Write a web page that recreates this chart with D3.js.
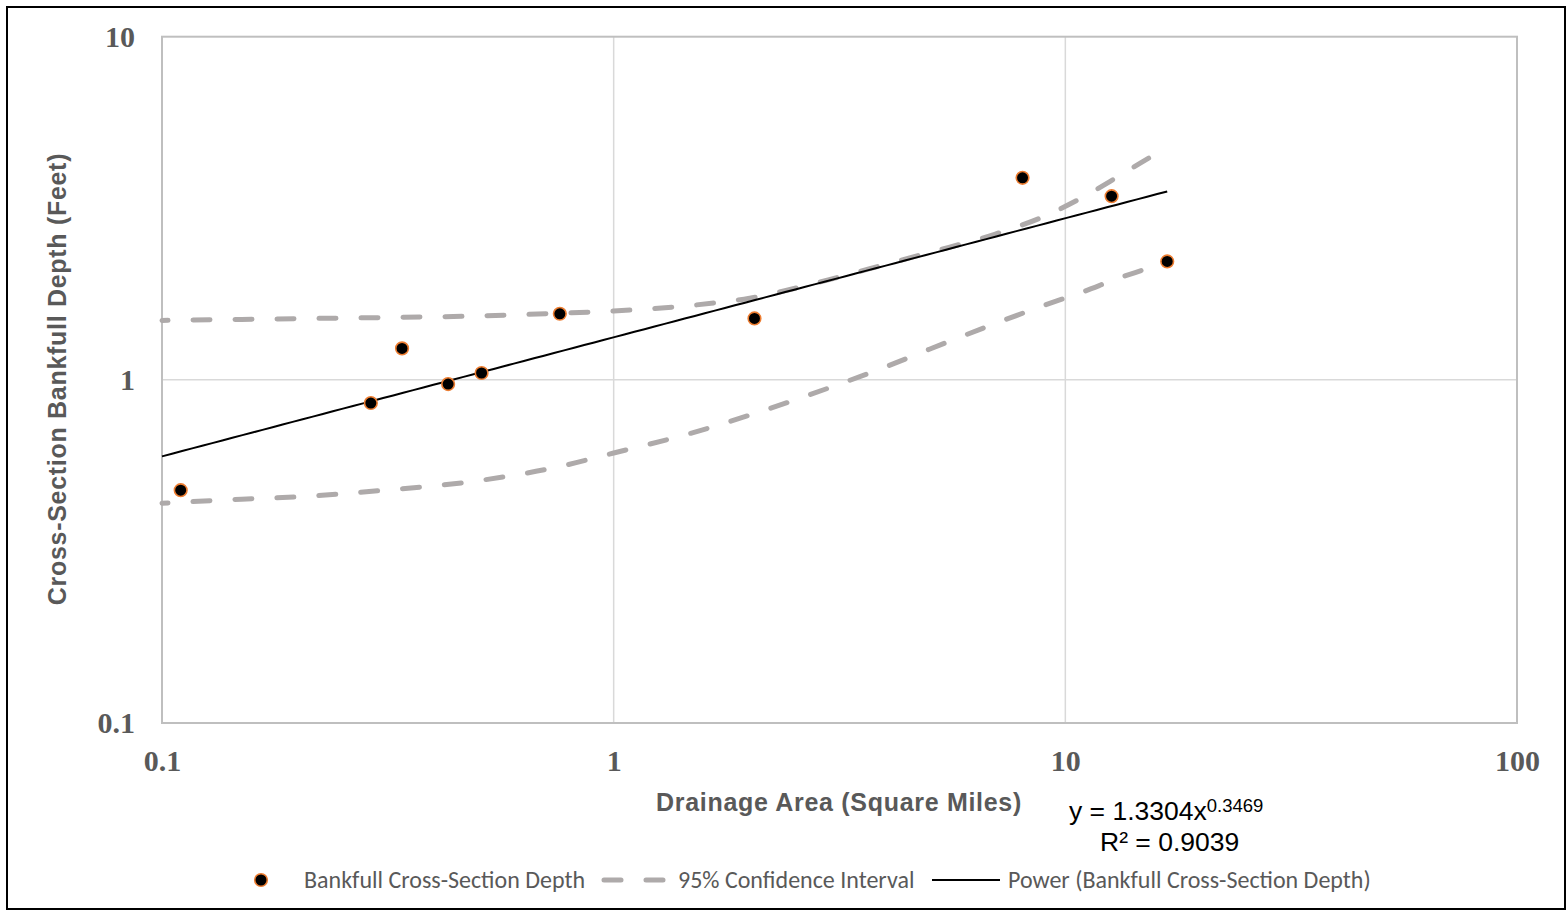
<!DOCTYPE html>
<html>
<head>
<meta charset="utf-8">
<script src="https://cdn.jsdelivr.net/npm/d3@7"></script>
<style>
  html, body { margin: 0; padding: 0; background: #fff; }
  svg { display: block; }
</style>
</head>
<body>
<svg id="chart" width="1568" height="911"></svg>
<script>
// Surveyed reaches: drainage area (sq mi) and bankfull cross-section depth (ft)
const drainageArea  = [0.11, 0.29, 0.34, 0.43, 0.51, 0.76, 2.05, 8.04, 12.66, 16.81];
const bankfullDepth = [0.477, 0.856, 1.235, 0.972, 1.047, 1.558, 1.51, 3.88, 3.43, 2.213];

// 95% confidence band around the regression
const ciArea  = [0.1, 0.15, 0.2, 0.3, 0.5, 0.75, 1, 1.5, 2, 3, 4, 5, 7, 9, 11, 13, 15, 16.81];
const ciUpper = [1.49, 1.50, 1.508, 1.518, 1.535, 1.563, 1.587, 1.65, 1.73, 1.96, 2.17, 2.35, 2.66, 3.0, 3.42, 3.89, 4.36, 4.75];
const ciLower = [0.437, 0.449, 0.456, 0.475, 0.508, 0.557, 0.612, 0.702, 0.789, 0.948, 1.091, 1.228, 1.46, 1.65, 1.81, 1.97, 2.10, 2.21];

// Power regression: y = a * x^b
const powerCoef = 1.3304;
const powerExp  = 0.3469;
const rSquared  = 0.9039;

const xTicks = [0.1, 1, 10, 100];
const yTicks = [0.1, 1, 10];

const svg = d3.select("#chart");
const plotLeft = 162, plotRight = 1517, plotTop = 36.7, plotBottom = 723;

const x = d3.scaleLog().domain([0.1, 100]).range([plotLeft, plotRight]);
const y = d3.scaleLog().domain([0.1, 10]).range([plotBottom, plotTop]);

// outer frame
svg.append("rect")
  .attr("x", 7).attr("y", 7).attr("width", 1558).attr("height", 902)
  .attr("fill", "#fff").attr("stroke", "#000").attr("stroke-width", 2);

// gridlines
const grid = svg.append("g").attr("stroke", "#d9d9d9").attr("stroke-width", 1.5);
grid.selectAll("line.v").data(xTicks.slice(1, -1)).join("line")
  .attr("x1", d => x(d)).attr("x2", d => x(d)).attr("y1", plotTop).attr("y2", plotBottom);
grid.selectAll("line.h").data(yTicks.slice(1, -1)).join("line")
  .attr("x1", plotLeft).attr("x2", plotRight).attr("y1", d => y(d)).attr("y2", d => y(d));

// plot area border
svg.append("rect")
  .attr("x", plotLeft).attr("y", plotTop)
  .attr("width", plotRight - plotLeft).attr("height", plotBottom - plotTop)
  .attr("fill", "none").attr("stroke", "#bfbfbf").attr("stroke-width", 2);

// axes (labels only)
const fmt = d3.format("~g");
const tickFont = "'Liberation Serif', 'Times New Roman', serif";

const xAxis = svg.append("g")
  .attr("transform", `translate(0,${plotBottom})`)
  .call(d3.axisBottom(x).tickValues(xTicks).tickFormat(fmt).tickSize(0).tickPadding(27));
const yAxis = svg.append("g")
  .attr("transform", `translate(${plotLeft},0)`)
  .call(d3.axisLeft(y).tickValues(yTicks).tickFormat(fmt).tickSize(0).tickPadding(27));
[xAxis, yAxis].forEach(a => {
  a.select(".domain").remove();
  a.selectAll("text")
    .attr("fill", "#595959")
    .style("font-family", tickFont)
    .style("font-weight", "bold")
    .style("font-size", "30px");
});

// axis titles
svg.append("text")
  .attr("x", 839).attr("y", 811)
  .attr("text-anchor", "middle")
  .attr("fill", "#595959")
  .style("font-family", "'Liberation Sans', Arial, sans-serif")
  .style("font-weight", "bold").style("font-size", "25px").style("letter-spacing", "0.7px")
  .text("Drainage Area (Square Miles)");

svg.append("text")
  .attr("transform", "translate(66,379) rotate(-90)")
  .attr("text-anchor", "middle")
  .attr("fill", "#595959")
  .style("font-family", "'Liberation Sans', Arial, sans-serif")
  .style("font-weight", "bold").style("font-size", "25px").style("letter-spacing", "0.7px")
  .text("Cross-Section Bankfull Depth (Feet)");

// confidence band lines
const bandLine = d3.line()
  .x(d => x(d[0])).y(d => y(d[1]))
  .curve(d3.curveMonotoneX);
const dashStyle = sel => sel
  .attr("fill", "none").attr("stroke", "#aeaaaa").attr("stroke-width", 5)
  .attr("stroke-linecap", "round").attr("stroke-dasharray", "17 25");

[ciUpper, ciLower].forEach(vals => {
  svg.append("path")
    .datum(ciArea.map((a, i) => [a, vals[i]]))
    .attr("d", bandLine)
    .call(dashStyle)
    .attr("stroke-dashoffset", 11);
});

// power trend line
const xMin = 0.1, xMax = d3.max(drainageArea);
const trendPts = d3.range(0, 101).map(i => {
  const a = Math.pow(10, Math.log10(xMin) + (Math.log10(xMax) - Math.log10(xMin)) * i / 100);
  return [a, powerCoef * Math.pow(a, powerExp)];
});
svg.append("path")
  .datum(trendPts)
  .attr("d", d3.line().x(d => x(d[0])).y(d => y(d[1])))
  .attr("fill", "none").attr("stroke", "#000").attr("stroke-width", 2);

// observed points
svg.append("g").selectAll("circle")
  .data(drainageArea.map((a, i) => [a, bankfullDepth[i]]))
  .join("circle")
  .attr("cx", d => x(d[0])).attr("cy", d => y(d[1]))
  .attr("r", 6.3)
  .attr("fill", "#000").attr("stroke", "#ed7d31").attr("stroke-width", 1.6);

// regression equation
const eqFont = "'Liberation Sans', Arial, sans-serif";
const eq = svg.append("text")
  .attr("x", 1069).attr("y", 820)
  .attr("fill", "#000")
  .style("font-family", eqFont).style("font-size", "26.5px");
eq.append("tspan").text(`y = ${powerCoef}x`);
eq.append("tspan").attr("dy", -8).style("font-size", "18.5px").text(`${powerExp}`);

svg.append("text")
  .attr("x", 1100).attr("y", 851)
  .attr("fill", "#000")
  .style("font-family", eqFont).style("font-size", "26.5px")
  .text(`R² = ${rSquared}`);

// legend
const legY = 880;
const legFont = "Carlito, Calibri, Lato, sans-serif";
const leg = svg.append("g");
leg.append("circle")
  .attr("cx", 261).attr("cy", legY).attr("r", 6.3)
  .attr("fill", "#000").attr("stroke", "#ed7d31").attr("stroke-width", 1.6);
leg.append("line")
  .attr("x1", 604).attr("x2", 666).attr("y1", legY).attr("y2", legY)
  .call(dashStyle);
leg.append("line")
  .attr("x1", 932).attr("x2", 1000).attr("y1", legY).attr("y2", legY)
  .attr("stroke", "#000").attr("stroke-width", 2);

const legendItems = [
  { x: 304, label: "Bankfull Cross-Section Depth" },
  { x: 678, label: "95% Confidence Interval" },
  { x: 1008, label: "Power (Bankfull Cross-Section Depth)" }
];
leg.selectAll("text.lbl").data(legendItems).join("text")
  .attr("class", "lbl")
  .attr("x", d => d.x).attr("y", legY).attr("dy", "0.35em")
  .attr("fill", "#595959")
  .style("font-family", legFont).style("font-size", "24px")
  .text(d => d.label);
</script>
</body>
</html>
